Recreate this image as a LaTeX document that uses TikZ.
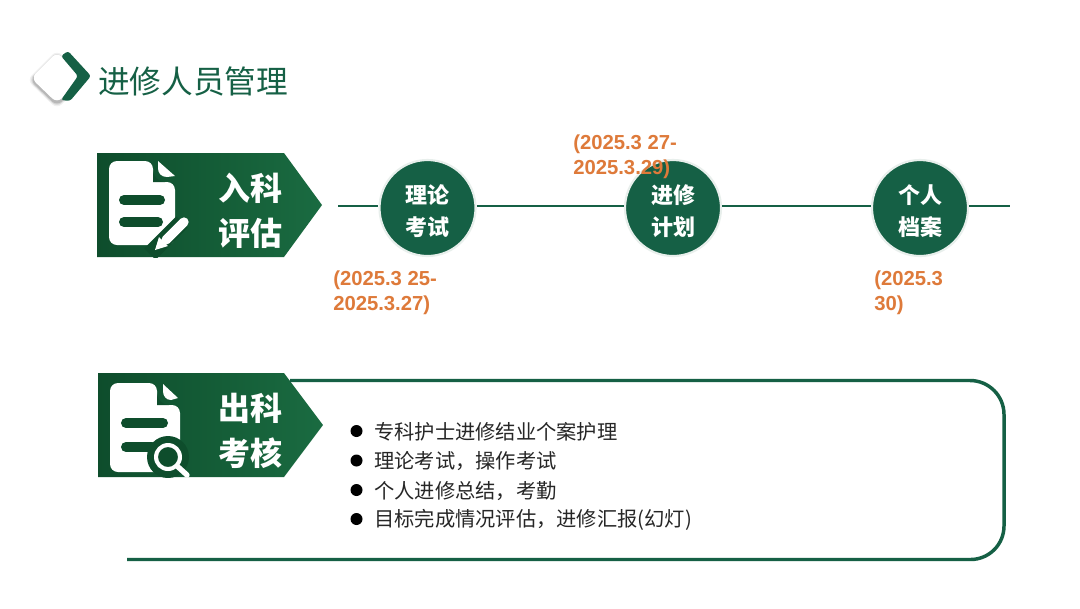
\documentclass[tikz,border=0pt]{standalone}
\usepackage{fontspec}
\setmainfont{Liberation Sans}
\newfontfamily\cjk{Noto Sans CJK SC}
\usetikzlibrary{calc}
\definecolor{gdark}{HTML}{0E4D2C}
\definecolor{gmid}{HTML}{1A6B41}
\definecolor{gline}{HTML}{156045}
\definecolor{orng}{HTML}{DE7A3A}
\newcommand{\lowerstrut}{\rule{0pt}{19pt}}
\tikzset{
  circ/.style={circle,fill=gline,draw=gline!10!white,line width=1.6pt,minimum size=72pt,inner sep=0pt,align=center,text=white,font=\fontsize{16.5}{24}\selectfont\cjk\bfseries},
  datelabel/.style={anchor=north west,inner sep=0pt,align=left,text=orng,font=\fontsize{15.2}{18.8}\selectfont\bfseries},
  tagtext/.style={inner sep=0pt,align=center,text=white,font=\fontsize{24}{34}\selectfont\cjk\bfseries},
  trunk/.style={gline,line width=1.9pt},
  iconw/.style={fill=white,draw=none},
  iconbar/.style={line width=7.5pt,line cap=round,gdark},
  bullettext/.style={anchor=west,inner sep=0pt,text=black!85,font=\fontsize{15.2}{18}\selectfont\cjk},
}
\begin{document}
\begin{tikzpicture}[x=0.75pt,y=-0.75pt]
\useasboundingbox (0,0) rectangle (1080,608);
\fill[white] (0,0) rectangle (1080,608);
% title mark
\foreach \ex/\op in {4/.06,2.5/.10,1.2/.14}{
  \fill[black,opacity=\op,rounded corners=5pt] (31-\ex,80) -- (57,54-\ex) -- (83+\ex,80) -- (57,105+\ex) -- cycle;
}
\fill[white,rounded corners=5pt] (31,78) -- (57,52) -- (83,78) -- (57,103) -- cycle;
\fill[gline,rounded corners=2pt] (61,56) -- (68,51) -- (91,76) -- (70,101) -- (61,100) -- (78,76) -- cycle;
\node[anchor=west,inner sep=0pt,text=gline] (title) at (98,81) {\fontsize{23.75}{28}\selectfont\cjk 进修人员管理};
% tag shapes
\shade[left color=gdark,right color=gmid] (97,153) -- (284,153) -- (322,205) -- (284,257) -- (97,257) -- cycle;
\shade[left color=gdark,right color=gmid] (98,373) -- (284,373) -- (323,425) -- (284,477) -- (98,477) -- cycle;
\node[tagtext] (tagA) at (250,210.5) {入科\\评估};
\node[tagtext] (tagB) at (250,430.5) {出科\\考核};
% icon A
\begin{scope}
\clip (97,153) rectangle (284,257);
\fill[iconw,rounded corners=6pt] (109,161) -- (153,161) -- (153,182) -- (175,182) -- (175,245) -- (109,245) -- cycle;
\fill[gdark] (153,170) -- (153,182) -- (165,182) arc[start angle=90,end angle=180,radius=12] -- cycle;
\fill[white] (158,161) -- (175,176) -- (167,177) .. controls (161,177) and (158,173) .. (158,168) -- cycle;
\draw[iconbar] (124,200) -- (160,200);
\draw[iconbar] (124,222) -- (158,222);
\draw[line width=12pt,gdark] (150,254) -- (182,222);
\draw[white,line width=7pt,line cap=round] (166,240) -- (184,222);
\fill[white] (155,250) -- (159,237) -- (168,246) -- cycle;
\end{scope}
% icon B
\begin{scope}
\clip (98,373) rectangle (284,477);
\fill[iconw,rounded corners=6pt] (110,383) -- (157,383) -- (157,405) -- (180,405) -- (180,472) -- (110,472) -- cycle;
\fill[gdark] (157,393) -- (157,405) -- (169,405) arc[start angle=90,end angle=180,radius=12] -- cycle;
\fill[white] (163,384) -- (178,398) -- (171,400) .. controls (166,400) and (163,396) .. (163,391) -- cycle;
\draw[iconbar] (126,423) -- (163,423);
\draw[iconbar] (126,447) -- (152,447);
\fill[gdark] (168,457) circle (21);
\fill[white,even odd rule] (168,457) circle (14) (168,457) circle (10);
\draw[white,line width=4pt,line cap=round] (177,466) -- (187,475);
\end{scope}
% timeline
\coordinate (lineL) at (338,206);
\coordinate (lineR) at (1010,206);
\node[circ] (n1) at (427.5,208) {\lowerstrut 理论\\考试};
\node[circ] (n2) at (673,208) {\lowerstrut 进修\\计划};
\node[circ] (n3) at (920,208) {\lowerstrut 个人\\档案};
\draw[trunk] (lineL) -- (n1.west |- lineL);
\draw[trunk] (n1.east |- lineL) -- (n2.west |- lineL);
\draw[trunk] (n2.east |- lineL) -- (n3.west |- lineL);
\draw[trunk] (n3.east |- lineL) -- (lineR);
% dates
\node[datelabel] (d1) at (333,270.5) {(2025.3 25-\\2025.3.27)};
\node[datelabel] (d2) at (573,134.5) {(2025.3 27-\\2025.3.29)};
\node[datelabel] (d3) at (874,270.5) {(2025.3\\30)};
% box
\coordinate (boxA) at (290,380.5);
\coordinate (boxB) at (127,559.5);
\draw[trunk,line width=2.6pt] (boxA) -- (970,380.5) arc[start angle=-90,end angle=0,radius=34] -- (1004,526) arc[start angle=0,end angle=90,radius=33.5] -- (boxB);
% bullets
\foreach \yy/\tt in {432/专科护士进修结业个案护理,461.5/理论考试，操作考试,491/个人进修总结，考勤,520/目标完成情况评估，进修汇报(幻灯)}{
  \fill[black] (356.5,\yy-1) circle (6);
  \node[bullettext] at (374,\yy) {\tt};
}
\end{tikzpicture}
\end{document}
